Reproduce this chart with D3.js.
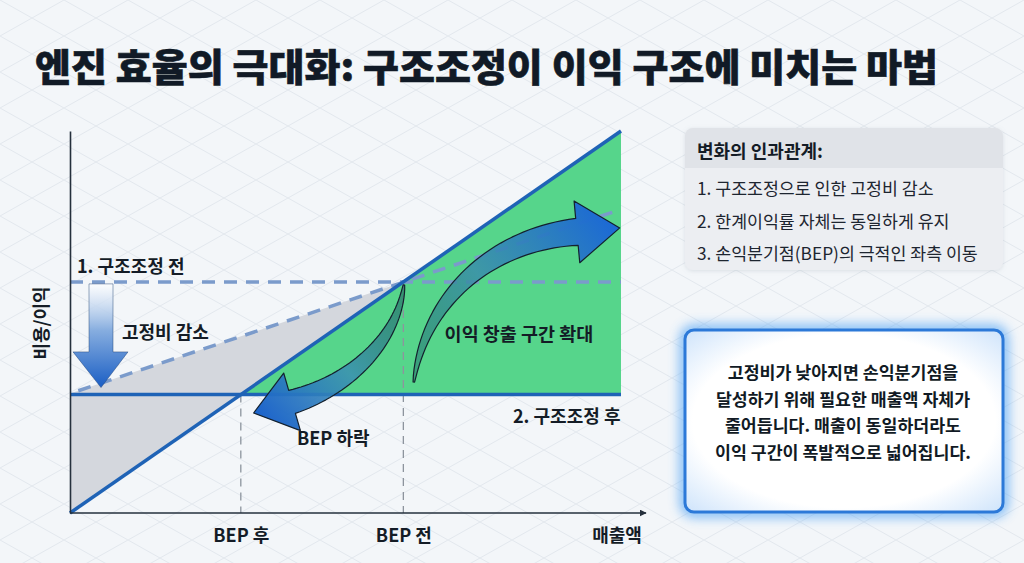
<!DOCTYPE html>
<html><head><meta charset="utf-8">
<script src="https://cdn.jsdelivr.net/npm/d3@7"></script>
<style>
body{margin:0;background:#f3f6f9;}
svg{display:block;}
text{font-family:"Noto Sans CJK KR","Noto Sans",sans-serif;}
</style></head>
<body><svg id="c" width="1024" height="563"></svg>
<script>
// ---------- data ----------
const titleText = "엔진 효율의 극대화: 구조조정이 이익 구조에 미치는 마법";
const xAxisLabel = "매출액";
const yAxisLabel = "비용/이익";
const revenue = [{x:0,y:0},{x:100,y:100}];
const fixedCostBefore = 60.5;
const fixedCostAfter = 31;
const totalCost = [{x:1.5,y:32},{x:99,y:79}];
const xTickLabels = ["BEP 후","BEP 전"];
const lineLabels = ["1. 구조조정 전","2. 구조조정 후"];
const annotationLabels = ["고정비 감소","이익 창출 구간 확대","BEP 하락"];
const legendTitle = "변화의 인과관계:";
const legendItems = ["1. 구조조정으로 인한 고정비 감소","2. 한계이익률 자체는 동일하게 유지","3. 손익분기점(BEP)의 극적인 좌측 이동"];
const calloutLines = ["고정비가 낮아지면 손익분기점을","달성하기 위해 필요한 매출액 자체가","줄어듭니다. 매출이 동일하더라도","이익 구간이 폭발적으로 넓어집니다."];
// annotation arrows (data units): cubic bezier control points
const bepArrow = [[60.6,59.7],[59.5,45.3],[50.8,33.5],[40.3,29.1]];
const profitArrow = [[62.4,34.3],[64.4,55.8],[76.2,71.5],[92.0,73.6]];

// ---------- setup ----------
const svg = d3.select("#c");
const W = 1024, H = 563;
const x = d3.scaleLinear().domain([0,100]).range([70,621]);
const y = d3.scaleLinear().domain([0,100]).range([513,131]);
const defs = svg.append("defs");

// background with diamond pattern
const pat = defs.append("pattern").attr("id","bgp").attr("patternUnits","userSpaceOnUse")
  .attr("width",64).attr("height",36);
pat.append("rect").attr("width",64).attr("height",36).attr("fill","#f3f6f9");
pat.append("path").attr("d","M0,0L64,36M64,0L0,36").attr("stroke","#e3e8ee").attr("stroke-width",1);
svg.append("rect").attr("width",W).attr("height",H).attr("fill","url(#bgp)");

// title
svg.append("text").attr("x",35).attr("y",81).text(titleText)
  .attr("font-size",38).attr("font-weight",900).attr("fill","#111a26")
  .attr("stroke","#111a26").attr("stroke-width",0.6)
  .attr("textLength",903).attr("lengthAdjust","spacingAndGlyphs");

// helper functions
const costAt = xv => totalCost[0].y + (xv-totalCost[0].x)*(totalCost[1].y-totalCost[0].y)/(totalCost[1].x-totalCost[0].x);
const revAt = xv => revenue[0].y + (xv-revenue[0].x)*(revenue[1].y-revenue[0].y)/(revenue[1].x-revenue[0].x);
const bepAfter = fixedCostAfter;   // revenue slope = 1
const bepBefore = fixedCostBefore;

const line = d3.line().x(d=>x(d.x)).y(d=>y(d.y));

// gray loss area
const grayPts = [{x:0,y:costAt(0)},{x:bepBefore,y:costAt(bepBefore)},{x:bepBefore,y:revAt(bepBefore)},{x:0,y:revAt(0)}];
svg.append("path").attr("d",line(grayPts)+"Z").attr("fill","#d4d7dd");

// green profit area
const greenPts = [{x:bepAfter,y:fixedCostAfter},{x:100,y:fixedCostAfter},{x:100,y:revAt(100)}];
svg.append("path").attr("d",line(greenPts)+"Z").attr("fill","#56d58b");

// vertical dashed BEP lines
[[bepAfter,fixedCostAfter],[bepBefore,fixedCostBefore]].forEach(([bx,by])=>{
  svg.append("line").attr("x1",x(bx)).attr("x2",x(bx)).attr("y1",y(by)).attr("y2",y(0))
    .attr("stroke","#8d949d").attr("stroke-width",1.3).attr("stroke-dasharray","8,6");
});

// dashed lines (before)
svg.append("line").attr("x1",x(0)).attr("x2",x(100)).attr("y1",y(fixedCostBefore)).attr("y2",y(fixedCostBefore))
  .attr("stroke","#7b9bcb").attr("stroke-width",3.5).attr("stroke-dasharray","13,9");
svg.append("path").attr("d",line(totalCost)).attr("fill","none")
  .attr("stroke","#7b9bcb").attr("stroke-width",3.5).attr("stroke-dasharray","13,9");

// solid lines
svg.append("line").attr("x1",x(0)).attr("x2",x(100)).attr("y1",y(fixedCostAfter)).attr("y2",y(fixedCostAfter))
  .attr("stroke","#1f63b6").attr("stroke-width",3.5);
svg.append("path").attr("d",line(revenue)).attr("fill","none")
  .attr("stroke","#1f63b6").attr("stroke-width",3.5);

// axes
const yAxis = d3.axisLeft(y).tickValues([]).tickSizeOuter(0);
svg.append("g").attr("transform",`translate(${x(0)},0)`).call(yAxis)
  .select(".domain").attr("stroke","#25303c").attr("stroke-width",1.6);
defs.append("marker").attr("id","ah").attr("viewBox","0 0 10 10").attr("refX",9).attr("refY",5)
  .attr("markerWidth",7).attr("markerHeight",7).attr("markerUnits","userSpaceOnUse").attr("orient","auto")
  .append("path").attr("d","M0,0L10,5L0,10Z").attr("fill","#25303c");
const xAxis = d3.axisBottom(x).tickValues([bepAfter,bepBefore]).tickFormat((d,i)=>xTickLabels[i])
  .tickSize(0).tickPadding(16);
const gx = svg.append("g").attr("transform",`translate(0,${y(0)})`).call(xAxis);
gx.select(".domain").remove();
gx.selectAll("text").attr("font-size",18).attr("font-weight",700).attr("fill","#141c26")
  .attr("font-family",'"Noto Sans CJK KR",sans-serif');
svg.append("line").attr("x1",x(0)).attr("x2",646).attr("y1",y(0)).attr("y2",y(0))
  .attr("stroke","#25303c").attr("stroke-width",1.6).attr("marker-end","url(#ah)");
svg.append("text").attr("x",617).attr("y",542).attr("text-anchor","middle").text(xAxisLabel)
  .attr("font-size",18).attr("font-weight",700).attr("fill","#141c26");
svg.append("text").attr("transform","translate(48,323) rotate(-90)").attr("text-anchor","middle")
  .text(yAxisLabel).attr("font-size",18).attr("font-weight",700).attr("fill","#141c26");

// down arrow (fixed cost reduction)
const dg = defs.append("linearGradient").attr("id","dg").attr("x1",0).attr("y1",0).attr("x2",0).attr("y2",1);
dg.append("stop").attr("offset","0%").attr("stop-color","#ffffff").attr("stop-opacity",0.7);
dg.append("stop").attr("offset","45%").attr("stop-color","#86addf");
dg.append("stop").attr("offset","100%").attr("stop-color","#1a5ec4");
const ax = x(0)+31, aTop = y(fixedCostBefore)+2, aHead = y(fixedCostBefore)+70, aTip = y(fixedCostAfter)-7;
svg.append("path").attr("d",`M${ax-12},${aTop}L${ax+12},${aTop}L${ax+12},${aHead}L${ax+27},${aHead}L${ax},${aTip}L${ax-28},${aHead}L${ax-12},${aHead}Z`)
  .attr("fill","url(#dg)").attr("stroke","#1d3f72").attr("stroke-opacity",0.45).attr("stroke-width",1);

// curved tapered arrows
function taperArrow(ctrl, w0, w1, hw, hl){
  const P = ctrl.map(d=>[x(d[0]),y(d[1])]);
  const B = t=>{const u=1-t;return [0,1].map(k=>u*u*u*P[0][k]+3*u*u*t*P[1][k]+3*u*t*t*P[2][k]+t*t*t*P[3][k]);};
  const D = t=>{const u=1-t;return [0,1].map(k=>3*u*u*(P[1][k]-P[0][k])+6*u*t*(P[2][k]-P[1][k])+3*t*t*(P[3][k]-P[2][k]));};
  const L=[],R=[];
  const N=40;
  for(let i=0;i<=N;i++){
    const t=i/N, p=B(t), d=D(t), len=Math.hypot(d[0],d[1]);
    const n=[-d[1]/len,d[0]/len], w=(w0+(w1-w0)*Math.pow(t,0.8))/2;
    L.push([p[0]+n[0]*w,p[1]+n[1]*w]); R.push([p[0]-n[0]*w,p[1]-n[1]*w]);
  }
  const d=D(1), len=Math.hypot(d[0],d[1]), dir=[d[0]/len,d[1]/len], n=[-dir[1],dir[0]], p=P[3];
  const head=[[p[0]+n[0]*hw,p[1]+n[1]*hw],[p[0]+dir[0]*hl,p[1]+dir[1]*hl],[p[0]-n[0]*hw,p[1]-n[1]*hw]];
  const pts=L.concat(head).concat(R.reverse());
  return {d:d3.line()(pts)+"Z", start:P[0], end:[p[0]+dir[0]*hl,p[1]+dir[1]*hl]};
}
function addArrow(ctrl,id,stops,w0,w1,hw,hl){
  const a=taperArrow(ctrl,w0,w1,hw,hl);
  const g=defs.append("linearGradient").attr("id",id).attr("gradientUnits","userSpaceOnUse")
    .attr("x1",a.start[0]).attr("y1",a.start[1]).attr("x2",a.end[0]).attr("y2",a.end[1]);
  stops.forEach(s=>g.append("stop").attr("offset",s[0]).attr("stop-color",s[1]).attr("stop-opacity",s[2]));
  svg.append("path").attr("d",a.d).attr("fill",`url(#${id})`).attr("stroke","#14212e").attr("stroke-width",1.2).attr("stroke-linejoin","round");
}
addArrow(bepArrow,"g1",[["0%","#1d5f5a",0.55],["50%","#3a8fb2",0.85],["100%","#1b62cc",1]],1.5,24,30,40);
addArrow(profitArrow,"g2",[["0%","#216f68",0.5],["45%","#3a8eaa",0.85],["100%","#1b68d6",1]],1.5,27,31,43);

// labels
const lab = (t,xx,yy,fs,anchor)=>svg.append("text").attr("x",xx).attr("y",yy).text(t)
  .attr("font-size",fs).attr("font-weight",700).attr("fill","#141c26").attr("text-anchor",anchor||"start");
lab(lineLabels[0],77,273,18);
lab(lineLabels[1],513,423,18);
lab(annotationLabels[0],122,339,18);
lab(annotationLabels[1],519,341,18.5,"middle");
lab(annotationLabels[2],297,445,18);

// legend box
const lg = svg.append("g");
defs.append("filter").attr("id","sh").attr("x","-10%").attr("y","-10%").attr("width","120%").attr("height","130%")
  .append("feDropShadow").attr("dx",0).attr("dy",1).attr("stdDeviation",2).attr("flood-color","#8a96a6").attr("flood-opacity",0.25);
lg.append("rect").attr("x",685).attr("y",128).attr("width",318).attr("height",142).attr("rx",8)
  .attr("fill","#eceef2").attr("filter","url(#sh)");
lg.append("path").attr("d","M685,168V136a8,8 0 0 1 8,-8H995a8,8 0 0 1 8,8V168Z").attr("fill","#e0e3e8");
lg.append("text").attr("x",697).attr("y",158).text(legendTitle).attr("font-size",18).attr("font-weight",700).attr("fill","#141c26");
lg.selectAll("text.it").data(legendItems).enter().append("text").attr("class","it")
  .attr("x",697).attr("y",(d,i)=>195+i*32.5).text(d=>d).attr("font-size",17.3).attr("fill","#1d2530");

// callout box
const gl = defs.append("filter").attr("id","glow").attr("x","-20%").attr("y","-20%").attr("width","140%").attr("height","140%");
gl.append("feGaussianBlur").attr("stdDeviation",6);
svg.append("rect").attr("x",685).attr("y",330).attr("width",318).attr("height",182).attr("rx",9)
  .attr("fill","none").attr("stroke","#5aa8f5").attr("stroke-width",10).attr("opacity",0.85).attr("filter","url(#glow)");
const ig = defs.append("radialGradient").attr("id","ig").attr("cx","50%").attr("cy","50%").attr("r","70%");
ig.append("stop").attr("offset","68%").attr("stop-color","#ffffff");
ig.append("stop").attr("offset","100%").attr("stop-color","#cfe4fb");
svg.append("rect").attr("x",685).attr("y",330).attr("width",318).attr("height",182).attr("rx",9)
  .attr("fill","url(#ig)").attr("stroke","#2c79d8").attr("stroke-width",3);
svg.selectAll("text.co").data(calloutLines).enter().append("text").attr("class","co")
  .attr("x",843).attr("y",(d,i)=>379+i*26.5).attr("text-anchor","middle").text(d=>d)
  .attr("font-size",17.3).attr("font-weight",700).attr("fill","#111a24");
</script></body></html>
